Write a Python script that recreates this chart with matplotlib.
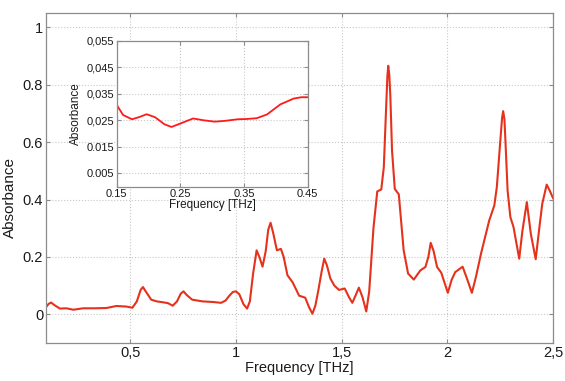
import numpy as np
import matplotlib.pyplot as plt

plt.rcParams['font.family'] = ['Liberation Sans', 'DejaVu Sans']

# main spectrum
freq = [0.100, 0.112, 0.124, 0.140, 0.166, 0.197, 0.229, 0.276, 0.330, 0.386,
        0.433, 0.481, 0.509, 0.530, 0.548, 0.559, 0.572, 0.598, 0.625, 0.653,
        0.677, 0.700, 0.720, 0.738, 0.751, 0.765, 0.792, 0.842, 0.890, 0.929,
        0.950, 0.968, 0.985, 0.999, 1.015, 1.035, 1.052, 1.065, 1.080, 1.097,
        1.110, 1.125, 1.140, 1.152, 1.163, 1.175, 1.193, 1.212, 1.225, 1.243,
        1.267, 1.285, 1.298, 1.327, 1.345, 1.361, 1.375, 1.389, 1.405, 1.417,
        1.430, 1.446, 1.465, 1.487, 1.514, 1.534, 1.550, 1.565, 1.581, 1.598,
        1.616, 1.630, 1.650, 1.668, 1.687, 1.699, 1.710, 1.716, 1.720, 1.725,
        1.730, 1.738, 1.751, 1.770, 1.793, 1.814, 1.841, 1.872, 1.896, 1.910,
        1.921, 1.935, 1.951, 1.971, 2.002, 2.020, 2.037, 2.072, 2.090, 2.116,
        2.135, 2.159, 2.198, 2.222, 2.234, 2.250, 2.259, 2.264, 2.270, 2.275,
        2.285, 2.298, 2.313, 2.340, 2.355, 2.376, 2.395, 2.418, 2.435, 2.449,
        2.470, 2.485, 2.500]
absorb = [0.025, 0.036, 0.041, 0.032, 0.020, 0.021, 0.016, 0.021, 0.021, 0.022,
          0.029, 0.027, 0.023, 0.045, 0.085, 0.095, 0.080, 0.051, 0.045, 0.042,
          0.039, 0.030, 0.045, 0.072, 0.080, 0.068, 0.051, 0.045, 0.043, 0.040,
          0.048, 0.065, 0.078, 0.080, 0.070, 0.035, 0.020, 0.045, 0.140, 0.223,
          0.200, 0.166, 0.220, 0.295, 0.319, 0.285, 0.223, 0.228, 0.200, 0.136,
          0.112, 0.085, 0.065, 0.058, 0.025, 0.002, 0.030, 0.083, 0.150, 0.194,
          0.170, 0.125, 0.100, 0.085, 0.090, 0.060, 0.040, 0.065, 0.093, 0.060,
          0.010, 0.080, 0.300, 0.428, 0.435, 0.512, 0.720, 0.830, 0.866, 0.835,
          0.760, 0.570, 0.437, 0.418, 0.223, 0.142, 0.121, 0.153, 0.165, 0.200,
          0.249, 0.220, 0.165, 0.145, 0.075, 0.120, 0.147, 0.166, 0.130, 0.075,
          0.130, 0.211, 0.327, 0.379, 0.443, 0.600, 0.685, 0.708, 0.680, 0.600,
          0.431, 0.339, 0.304, 0.194, 0.290, 0.391, 0.280, 0.192, 0.300, 0.385,
          0.452, 0.430, 0.405]

# inset: low frequency zoom
freq_in = [0.150, 0.160, 0.174, 0.185, 0.197, 0.210, 0.225, 0.236, 0.250, 0.270,
           0.287, 0.304, 0.320, 0.340, 0.354, 0.370, 0.386, 0.407, 0.428, 0.440, 0.450]
absorb_in = [0.0308, 0.0270, 0.0254, 0.0262, 0.0273, 0.0262, 0.0235, 0.0225, 0.0238, 0.0257,
             0.0250, 0.0245, 0.0248, 0.0254, 0.0255, 0.0258, 0.0272, 0.0310, 0.0332, 0.0337, 0.0337]

xticks = [0.5, 1, 1.5, 2, 2.5]
xticklabels = ['0,5', '1', '1,5', '2', '2,5']
yticks = [0, 0.2, 0.4, 0.6, 0.8, 1]
yticklabels = ['0', '0.2', '0.4', '0.6', '0.8', '1']
xticks_in = [0.15, 0.25, 0.35, 0.45]
xticklabels_in = ['0.15', '0.25', '0.35', '0.45']
yticks_in = [0.005, 0.015, 0.025, 0.035, 0.045, 0.055]
yticklabels_in = ['0.005', '0.015', '0,025', '0,035', '0,045', '0,055']


def matlab_style(ax, size):
    for s in ax.spines.values():
        s.set_color('#8c8c8c')
        s.set_linewidth(0.9)
    ax.tick_params(direction='in', top=True, right=True, length=3,
                   color='#8c8c8c', labelsize=size, labelcolor='#1a1a1a', pad=2)
    ax.grid(True, linestyle=':', color='#c8c8c8', linewidth=0.8)
    ax.set_axisbelow(True)


fig = plt.figure(figsize=(5.65, 3.81), dpi=100)

ax = fig.add_axes([0.0814, 0.0997, 0.8974, 0.8662])
ax.plot(freq, absorb, color='#e5321c', linewidth=1.5)
ax.set_xlim(0.1, 2.5)
ax.set_ylim(-0.1, 1.05)
ax.set_xticks(xticks)
ax.set_xticklabels(xticklabels)
ax.set_yticks(yticks)
ax.set_yticklabels(yticklabels)
matlab_style(ax, 10.5)
ax.set_xlabel('Frequency [THz]', fontsize=10.5, color='#1a1a1a', labelpad=1)
ax.set_ylabel('Absorbance', fontsize=11, color='#1a1a1a')
ax.yaxis.set_label_coords(-0.057, 0.44)

ins = fig.add_axes([0.2066, 0.510, 0.338, 0.3832])
ins.plot(freq_in, absorb_in, color='#ff1a1a', linewidth=1.3)
ins.set_xlim(0.15, 0.45)
ins.set_ylim(0, 0.055)
ins.set_xticks(xticks_in)
ins.set_xticklabels(xticklabels_in)
ins.set_yticks(yticks_in)
ins.set_yticklabels(yticklabels_in)
matlab_style(ins, 8)
ins.set_facecolor('white')
ins.set_xlabel('Frequency [THz]', fontsize=8.5, color='#1a1a1a', labelpad=0)
ins.set_ylabel('Absorbance', fontsize=8.5, color='#1a1a1a')
ins.yaxis.set_label_coords(-0.18, 0.5)

fig.savefig('out.png', dpi=100)
